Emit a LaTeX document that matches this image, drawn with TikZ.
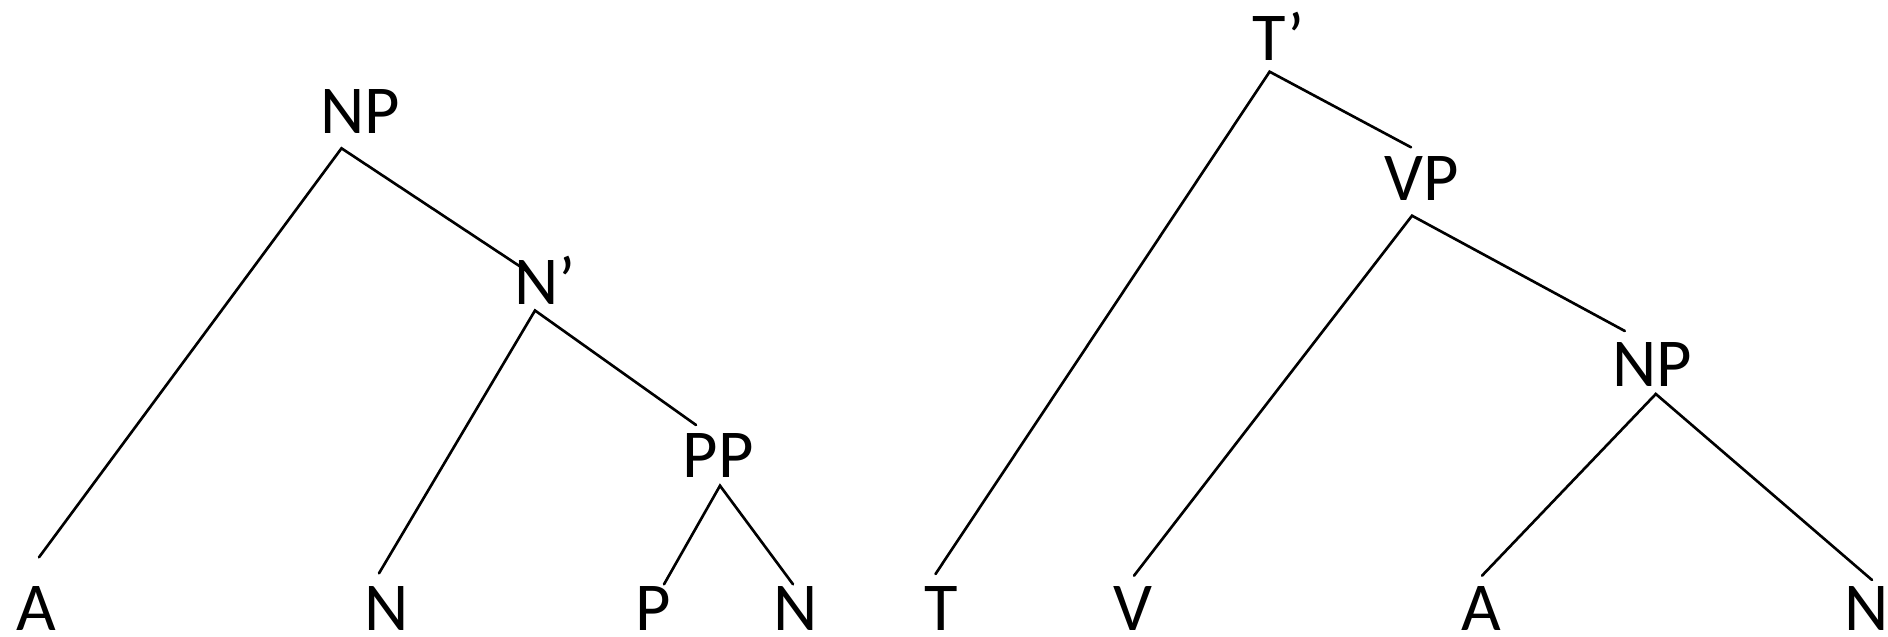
\documentclass[tikz,border=0pt]{standalone}
\usepackage{fontspec}
\setmainfont{Carlito}
\begin{document}
\begin{tikzpicture}[x=0.01cm,y=-0.01cm,
  lbl/.style={anchor=base,inner sep=0pt,font=\fontsize{19.5}{23}\selectfont},
  edge/.style={line width=0.75pt,line cap=round}]
\useasboundingbox (0,0) rectangle (1888,637);
% left tree
\node[lbl] (NPa) at (360,134) {NP};
\node[lbl] (Nbar) at (545,305) {N’};
\node[lbl] (PP) at (718,477) {PP};
\node[lbl] (Aa) at (36,630) {A};
\node[lbl] (Na) at (387,630) {N};
\node[lbl] (Pa) at (653,630) {P};
\node[lbl] (Nb) at (796,630) {N};
% right tree
\node[lbl] (Tbar) at (1279,61) {T’};
\node[lbl] (VP) at (1422,201) {VP};
\node[lbl] (NPb) at (1652,387) {NP};
\node[lbl] (T) at (941,630) {T};
\node[lbl] (V) at (1133,630) {V};
\node[lbl] (Ab) at (1481,630) {A};
\node[lbl] (Nc) at (1867,630) {N};
% connector points
\coordinate (NPa-b) at (341.5,148.3);
\coordinate (Aa-t) at (39,557.3);
\coordinate (Nbar-t) at (528,271.7);
\coordinate (Nbar-b) at (535,310.5);
\coordinate (Na-t) at (379,573.3);
\coordinate (PP-t) at (696,425);
\coordinate (PP-b) at (720,485.7);
\coordinate (Pa-t) at (664,584.3);
\coordinate (Nb-t) at (793,584.3);
\coordinate (Tbar-b) at (1269.6,71.7);
\coordinate (T-t) at (935.5,574);
\coordinate (VP-t) at (1411,147.3);
\coordinate (VP-b) at (1412,215.7);
\coordinate (V-t) at (1134,575.7);
\coordinate (NPb-t) at (1624.8,331);
\coordinate (NPb-b) at (1655.8,394);
\coordinate (Ab-t) at (1482,575.7);
\coordinate (Nc-t) at (1872,580);
% connectors
\draw[edge] (Aa-t) -- (NPa-b) -- (Nbar-t);
\draw[edge] (Na-t) -- (Nbar-b) -- (PP-t);
\draw[edge] (Pa-t) -- (PP-b) -- (Nb-t);
\draw[edge] (T-t) -- (Tbar-b) -- (VP-t);
\draw[edge] (V-t) -- (VP-b) -- (NPb-t);
\draw[edge] (Ab-t) -- (NPb-b) -- (Nc-t);
\end{tikzpicture}
\end{document}
